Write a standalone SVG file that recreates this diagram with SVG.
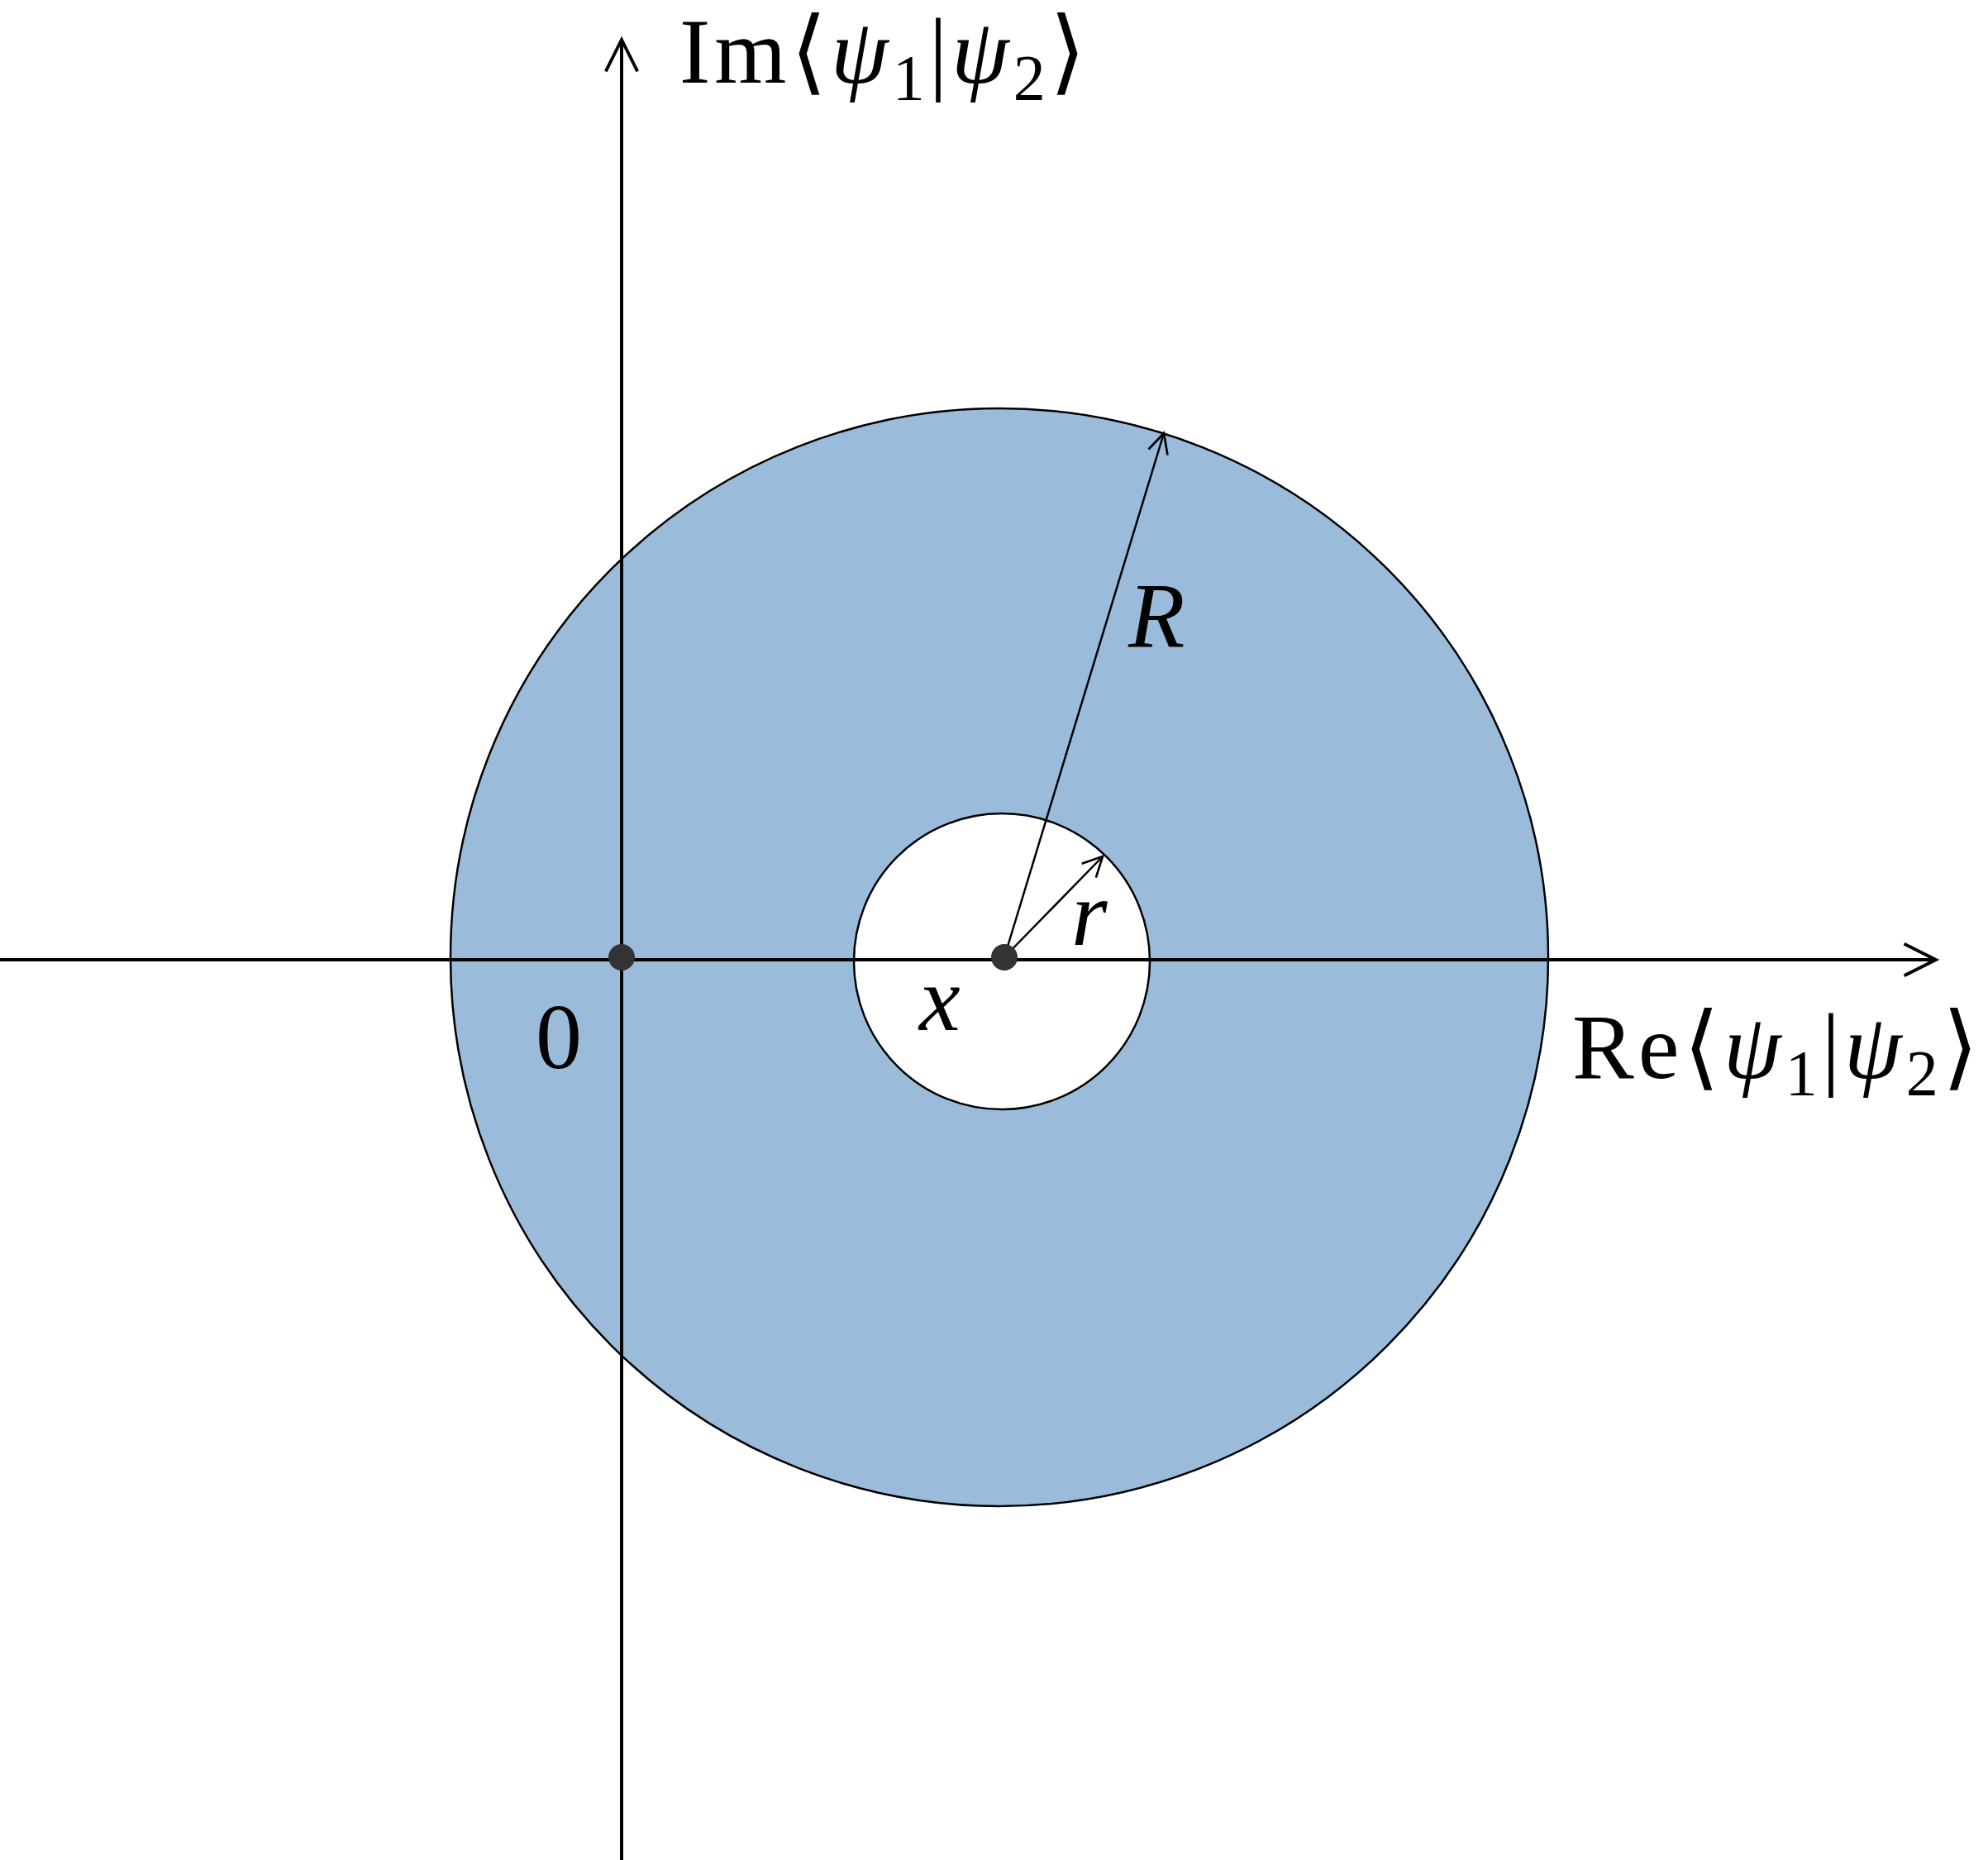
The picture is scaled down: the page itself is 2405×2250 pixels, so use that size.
<svg xmlns="http://www.w3.org/2000/svg" width="2405" height="2250" viewBox="0 0 2405 2250">
<style>
.ax{stroke:#000;stroke-width:4;fill:none}
.t{font-family:"Liberation Serif","DejaVu Serif",serif;font-size:112px;fill:#000}
.w{letter-spacing:5px}
.i{font-style:italic}
.s{font-size:78px}
</style>
<defs>
<marker id="ah" viewBox="0 0 20 20" refX="18" refY="10" markerWidth="30" markerHeight="30" markerUnits="userSpaceOnUse" orient="auto"><path d="M2,2 L18,10 L2,18" fill="none" stroke="#000" stroke-width="1.8"/></marker>
<marker id="ahb" viewBox="0 0 20 20" refX="18" refY="10" markerWidth="48" markerHeight="48" markerUnits="userSpaceOnUse" orient="auto"><path d="M2,2 L18,10 L2,18" fill="none" stroke="#000" stroke-width="1.6"/></marker>
</defs>
<g id="annulus">
<circle cx="1209" cy="1158" r="664" fill="#9abcda" stroke="#000" stroke-width="2.5"/>
<circle cx="1212" cy="1163" r="179" fill="#fff" stroke="#000" stroke-width="2.5"/>
</g>
<g id="connectors">
<line class="ax" x1="752" y1="2250" x2="752" y2="48" marker-end="url(#ahb)"/>
<line class="ax" x1="0" y1="1161" x2="2342" y2="1161" marker-end="url(#ahb)"/>
<line x1="1215" y1="1158" x2="1408" y2="524" stroke="#000" stroke-width="2.5" marker-end="url(#ah)"/>
<line x1="1215" y1="1158" x2="1334" y2="1036" stroke="#000" stroke-width="2.5" marker-end="url(#ah)"/>
</g>
<g id="dots">
<circle cx="752" cy="1158" r="16" fill="#333"/>
<circle cx="1215" cy="1158" r="16" fill="#333"/>
</g>
<g id="labels">
<text class="t w" x="822" y="100">Im⟨<tspan class="i">ψ</tspan><tspan class="s" dy="20">1</tspan><tspan dy="-20">|</tspan><tspan class="i">ψ</tspan><tspan class="s" dy="20">2</tspan><tspan dy="-20">⟩</tspan></text>
<text class="t w" x="1902" y="1304">Re⟨<tspan class="i">ψ</tspan><tspan class="s" dy="20">1</tspan><tspan dy="-20">|</tspan><tspan class="i">ψ</tspan><tspan class="s" dy="20">2</tspan><tspan dy="-20">⟩</tspan></text>
<text class="t" x="648" y="1292">0</text>
<text class="t i" x="1112" y="1246">x</text>
<text class="t i" x="1365" y="782">R</text>
<text class="t i" x="1296" y="1143">r</text>
</g>
</svg>
